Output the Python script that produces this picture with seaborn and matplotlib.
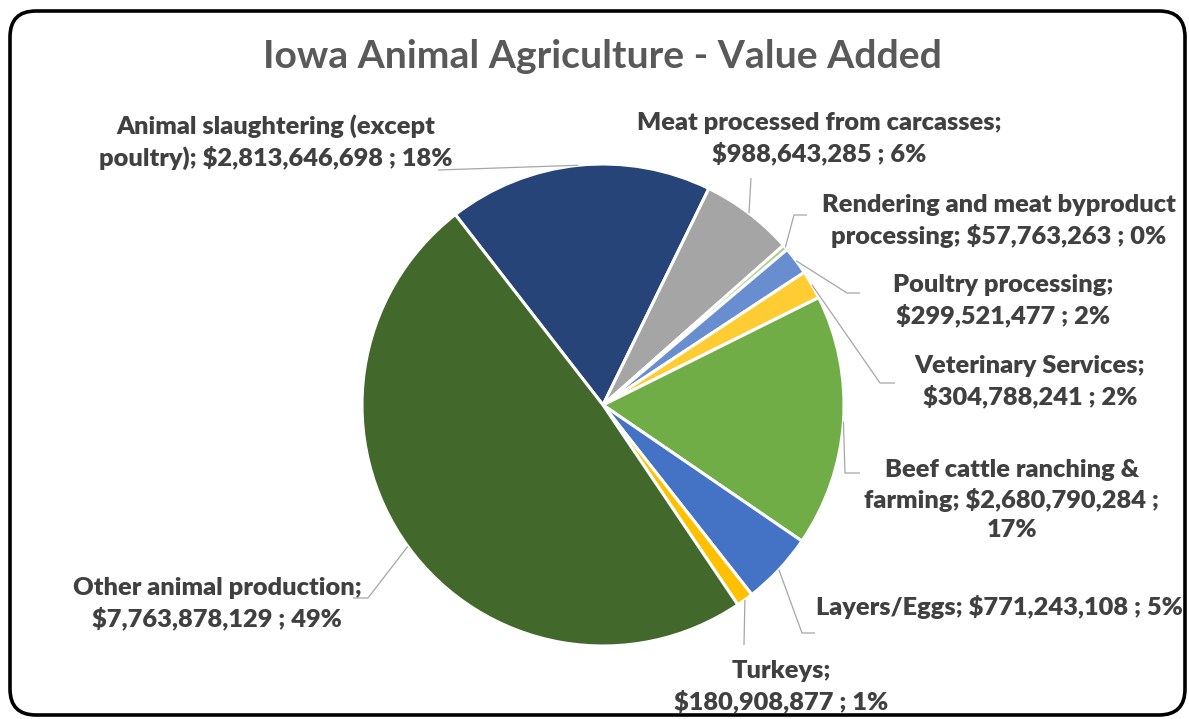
import textwrap
import numpy as np
import matplotlib
matplotlib.use("Agg")
import matplotlib.pyplot as plt
from matplotlib.patches import FancyBboxPatch
import seaborn as sns

# ---- data -----------------------------------------------------------------
categories = [
    "Animal slaughtering (except poultry)",
    "Meat processed from carcasses",
    "Rendering and meat byproduct processing",
    "Poultry processing",
    "Veterinary Services",
    "Beef cattle ranching & farming",
    "Layers/Eggs",
    "Turkeys",
    "Other animal production",
]
values = [2813646698, 988643285, 57763263, 299521477, 304788241,
          2680790284, 771243108, 180908877, 7763878129]
colors = ["#264478", "#A5A5A5", "#A9D18E", "#698ED0", "#FFCD33",
          "#70AD47", "#4472C4", "#FFC000", "#43682B"]
title = "Iowa Animal Agriculture - Value Added"

# ---- layout (canvas pixels, y measured from the top) ----------------------
W, H = 1189, 719
pie_center = (603, 405)
pie_radius = 241
start_angle = 127.8
wrap_widths = [30, 30, 28, 19, 20, 25, 40, 17, 24]
label_centers = [(276, 142), (819, 139), (999, 221), (1003, 301), (1030, 382),
                 (1012, 500), (999, 607), (781, 687), (217, 604)]
leader_paths = [[(438, 170)], [(751, 178)], [(794, 215), (807, 215)],
                [(847, 293), (860, 293)], [(880, 383), (895, 383)],
                [(845, 473), (860, 473)], [(802, 633), (815, 633)],
                [(744, 645)], [(368, 598), (353, 598)]]

sns.set_theme(style="white")
plt.rcParams["font.family"] = ["Lato", "DejaVu Sans"]

fig = plt.figure(figsize=(W / 100, H / 100), dpi=100)
ax = fig.add_axes([0, 0, 1, 1])


def to_data(x, y):
    return x, H - y


wedges, _ = ax.pie(values, colors=colors, startangle=start_angle,
                   counterclock=False, radius=pie_radius,
                   center=to_data(*pie_center),
                   wedgeprops=dict(edgecolor="white", linewidth=2.2))
ax.set_xlim(0, W)
ax.set_ylim(0, H)
ax.set_aspect("equal")
ax.axis("off")

renderer = fig.canvas.get_renderer()


def fit_size(s, target_px, weight):
    t = ax.text(0, 0, s, fontsize=10, fontweight=weight)
    w = t.get_window_extent(renderer).width
    t.remove()
    return 10 * target_px / w


label_weight = "heavy"
label_size = fit_size("Other animal production;", 290, label_weight)
title_size = fit_size(title, 681, "bold")

ax.text(602.5, H - 68, title, ha="center", va="baseline",
        fontsize=title_size, fontweight="bold", color="#595959")

total = sum(values)
cx, cy = to_data(*pie_center)
for wedge, name, val, width, (lx, ly), path in zip(
        wedges, categories, values, wrap_widths, label_centers, leader_paths):
    pct = val / total
    label = textwrap.fill(f"{name}; ${val:,} ; {pct:.0%}", width=width)
    ax.text(lx, H - ly, label, ha="center", va="center", multialignment="center",
            fontsize=label_size, fontweight=label_weight, color="#404040",
            linespacing=1.38)
    mid = np.deg2rad((wedge.theta1 + wedge.theta2) / 2)
    ex, ey = cx + pie_radius * np.cos(mid), cy + pie_radius * np.sin(mid)
    xs = [ex] + [p[0] for p in path]
    ys = [ey] + [H - p[1] for p in path]
    ax.plot(xs, ys, color="#A6A6A6", lw=0.9, solid_capstyle="butt")

frame = FancyBboxPatch((10, H - 715), 1175, 704,
                       boxstyle="round,pad=0,rounding_size=26",
                       fc="none", ec="black", lw=2.6, clip_on=False)
ax.add_patch(frame)

fig.savefig("out.png", dpi=100)
